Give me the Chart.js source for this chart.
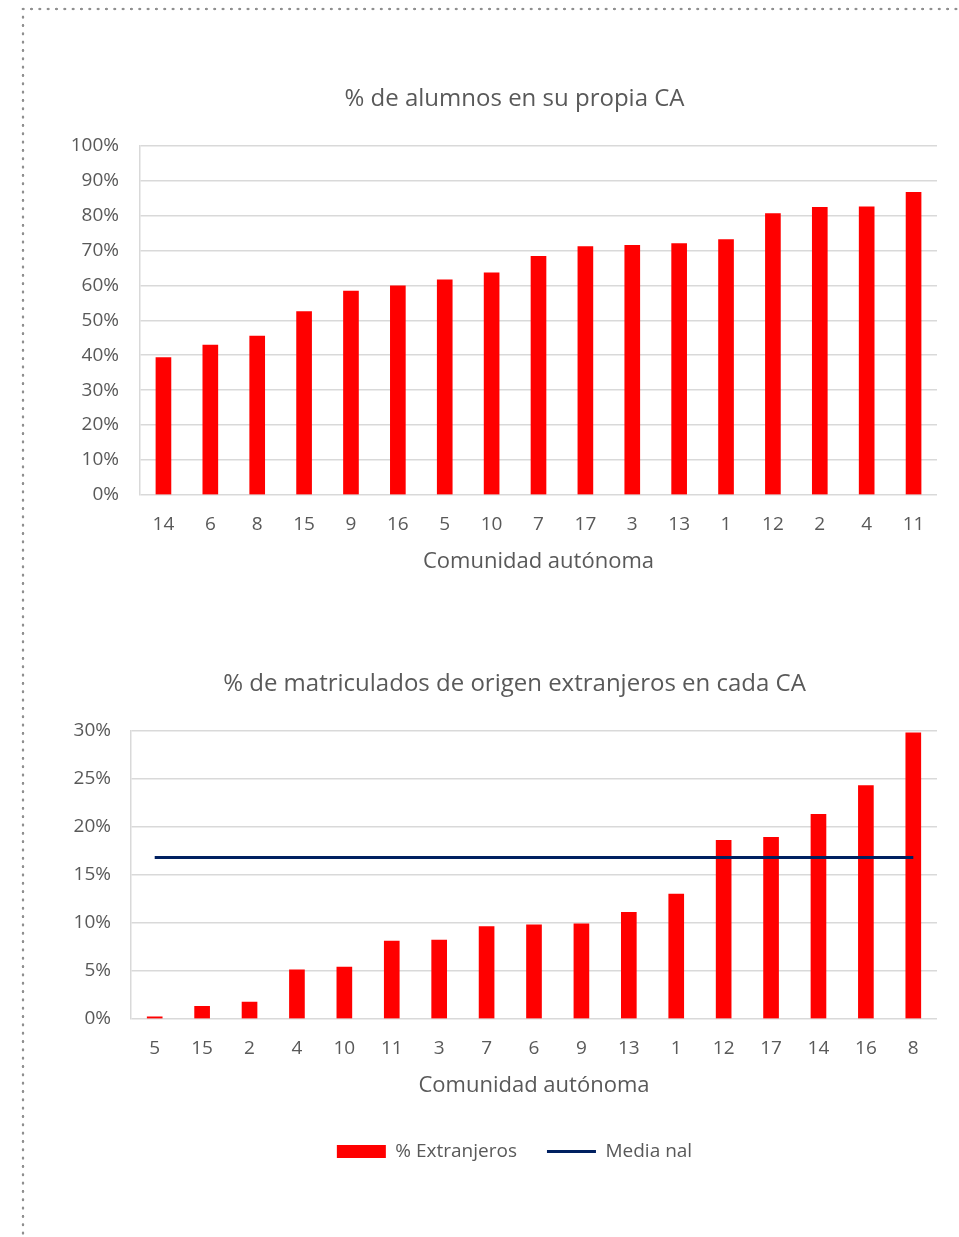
<!DOCTYPE html>
<html lang="es">
<head>
<meta charset="utf-8">
<title>Alumnos por comunidad autónoma</title>
<script src="https://cdn.jsdelivr.net/npm/chart.js@4.4.1/dist/chart.umd.min.js"></script>
<style>
  html, body { margin: 0; padding: 0; background: #fff; }
  body { width: 959px; height: 1237px; position: relative; overflow: hidden; }
  .dots-top {
    position: absolute; left: 19px; top: 5px; width: 940px; height: 8px;
    background-image: radial-gradient(circle, #8f8f8f 1.1px, transparent 1.6px);
    background-size: 8.33px 8px; background-repeat: repeat-x;
  }
  .dots-left {
    position: absolute; left: 19px; top: 13px; width: 8px; height: 1224px;
    background-image: radial-gradient(circle, #8f8f8f 1.1px, transparent 1.6px);
    background-size: 8px 8.33px; background-repeat: repeat-y;
  }
  .chart-box { position: absolute; left: 0; width: 959px; }
  #box-propia { top: 60px; height: 521px; }
  #box-extranjeros { top: 645px; height: 526px; }
</style>
</head>
<body>
<div class="dots-top"></div>
<div class="dots-left"></div>
<div class="chart-box" id="box-propia"><canvas id="chart-propia"></canvas></div>
<div class="chart-box" id="box-extranjeros"><canvas id="chart-extranjeros"></canvas></div>

<script>
// datos (porcentajes)
const caPropia = ['14', '6', '8', '15', '9', '16', '5', '10', '7', '17', '3', '13', '1', '12', '2', '4', '11'];
const pctPropia = [39.3, 42.9, 45.5, 52.5, 58.4, 59.9, 61.6, 63.6, 68.3, 71.1, 71.5, 72.0, 73.1, 80.6, 82.4, 82.5, 86.7];

const caExtranjeros = ['5', '15', '2', '4', '10', '11', '3', '7', '6', '9', '13', '1', '12', '17', '14', '16', '8'];
const pctExtranjeros = [0.2, 1.3, 1.75, 5.1, 5.4, 8.1, 8.2, 9.6, 9.8, 9.9, 11.1, 13.0, 18.6, 18.9, 21.3, 24.3, 29.8];
const mediaNal = 16.8;

const ticksPropia = { max: 100, step: 10 };
const ticksExtranjeros = { max: 30, step: 5 };

const GRAY_TEXT = '#595959';
const GRID = '#d9d9d9';
const RED = '#ff0000';
const NAVY = '#002060';

Chart.defaults.font.family = "'Open Sans', sans-serif";
Chart.defaults.color = GRAY_TEXT;
Chart.defaults.animation = false;

// el eje Y es estrecho para centrar título y leyenda como en el original;
// se amplía su zona de recorte para que las etiquetas no se corten
const unclipYLabels = {
  id: 'unclipYLabels',
  afterLayout(chart) {
    chart.scales.y.left = 0;
  }
};

function yAxis(range, axisWidth, pad) {
  return {
    min: 0,
    max: range.max,
    ticks: {
      stepSize: range.step,
      padding: pad,
      font: { size: 19 },
      color: GRAY_TEXT,
      callback: v => v + '%'
    },
    grid: { color: GRID, lineWidth: 1.5, drawTicks: false },
    border: { display: true, color: GRID, width: 1.5 },
    afterFit: scale => { scale.width = axisWidth; }
  };
}

function xAxis(titlePadBottom) {
  return {
    offset: true,
    grid: { display: true, color: 'transparent', drawTicks: true, tickLength: 14 },
    border: { display: false },
    ticks: { padding: 4, font: { size: 19 }, color: GRAY_TEXT, maxRotation: 0, autoSkip: false },
    title: {
      display: true,
      text: 'Comunidad autónoma',
      font: { size: 22 },
      color: GRAY_TEXT,
      padding: { top: 9, bottom: titlePadBottom }
    }
  };
}

function chartTitle(text) {
  return {
    display: true,
    text: text,
    font: { size: 24, weight: 'normal' },
    color: GRAY_TEXT,
    padding: { top: 25, bottom: 32 }
  };
}

// gráfico 1: % de alumnos en su propia CA
new Chart(document.getElementById('chart-propia'), {
  type: 'bar',
  data: {
    labels: caPropia,
    datasets: [{
      label: '% propia CA',
      data: pctPropia,
      backgroundColor: RED,
      barThickness: 15
    }]
  },
  options: {
    responsive: true,
    maintainAspectRatio: false,
    layout: { padding: { left: 92, right: 22, top: 0, bottom: 0 } },
    plugins: {
      title: chartTitle('% de alumnos en su propia CA'),
      legend: { display: false },
      tooltip: { enabled: false }
    },
    scales: {
      x: xAxis(6),
      y: yAxis(ticksPropia, 48, 21)
    }
  },
  plugins: [unclipYLabels]
});

// gráfico 2: % de extranjeros con la media nacional
new Chart(document.getElementById('chart-extranjeros'), {
  type: 'bar',
  data: {
    labels: caExtranjeros,
    datasets: [{
      type: 'bar',
      label: '% Extranjeros',
      data: pctExtranjeros,
      backgroundColor: RED,
      barThickness: 15,
      order: 1
    }, {
      type: 'line',
      label: 'Media nal',
      data: caExtranjeros.map(() => mediaNal),
      borderColor: NAVY,
      backgroundColor: NAVY,
      borderWidth: 3,
      pointRadius: 0,
      fill: false,
      order: 0
    }]
  },
  options: {
    responsive: true,
    maintainAspectRatio: false,
    layout: { padding: { left: 92, right: 22, top: 0, bottom: 0 } },
    plugins: {
      title: chartTitle('% de matriculados de origen extranjeros en cada CA'),
      tooltip: { enabled: false },
      legend: {
        position: 'bottom',
        labels: {
          usePointStyle: true,
          pointStyleWidth: 49,
          boxHeight: 13,
          padding: 30,
          font: { size: 19 },
          color: GRAY_TEXT,
          generateLabels: chart => {
            const items = Chart.defaults.plugins.legend.labels.generateLabels(chart);
            items.sort((a, b) => a.datasetIndex - b.datasetIndex);
            return items.map(item => {
              const ds = chart.data.datasets[item.datasetIndex];
              if (ds.type === 'line') {
                item.pointStyle = 'line';
                item.strokeStyle = NAVY;
                item.lineWidth = 3;
              } else {
                item.pointStyle = 'rect';
                item.fillStyle = RED;
                item.lineWidth = 0;
              }
              return item;
            });
          }
        }
      }
    },
    scales: {
      x: xAxis(13),
      y: yAxis(ticksExtranjeros, 39, 20)
    }
  },
  plugins: [unclipYLabels]
});
</script>
</body>
</html>
